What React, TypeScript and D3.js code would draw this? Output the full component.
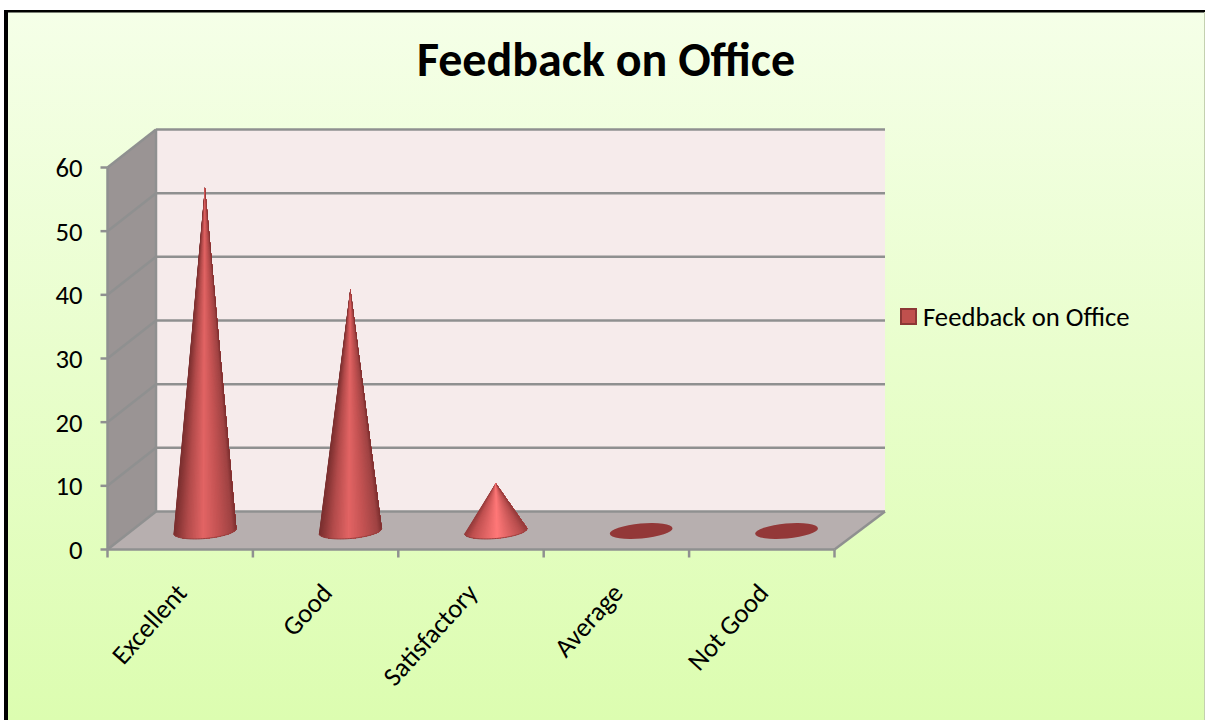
import React from 'react';
import * as d3 from 'd3';

const title = 'Feedback on Office';
const categories = ['Excellent', 'Good', 'Satisfactory', 'Average', 'Not Good'];
const values = [54, 38, 7.5, 0, 0];
const yTicks = [0, 10, 20, 30, 40, 50, 60];

const width = 1205;
const height = 720;
const font = 'Carlito, Calibri, "Open Sans", "Noto Sans", sans-serif';

// front plane of the 3d box, back wall is pushed by this offset
const depth = { x: 48.5, y: -38 };
const xScale = d3.scaleBand<string>().domain(categories).range([107.5, 834.5]);
const yScale = d3.scaleLinear().domain([0, 60]).range([549.5, 167.5]);

const axisColor = '#8f9090';

// shading across the cone, 0 = left edge, 1 = right edge
const coneShade = d3.scaleLinear<string>()
  .domain([0, 0.08, 0.3, 0.55, 0.8, 1])
  .range(['#7d3030', '#a04343', '#c25252', '#e26464', '#b34b4b', '#7a2f2f']);
const brightShade = d3.scaleLinear<string>()
  .domain([0, 0.1, 0.5, 0.9, 1])
  .range(['#963c3c', '#b84e4e', '#ff7878', '#c05050', '#963c3c']);

const SLICES = 60;

const Cone = ({ cx, cy, tipY, shade }: { cx: number; cy: number; tipY: number; shade: (t: number) => string }) => {
  const rx = 31.5;
  const ry = 7.5;
  const t = (-5 * Math.PI) / 180;
  const base = (a: number): [number, number] => [
    cx + rx * Math.cos(a) * Math.cos(t) - ry * Math.sin(a) * Math.sin(t),
    cy + rx * Math.cos(a) * Math.sin(t) + ry * Math.sin(a) * Math.cos(t),
  ];
  // base rim from left to right along the front of the ellipse
  const angles = d3.range(SLICES + 1).map(i => Math.PI - (i / SLICES) * Math.PI);
  const rim = angles.map(base);

  // painted left to right, every piece covers all that lies to its right, so no seams show
  return (
    <g>
      {angles.slice(0, -1).map((a, i) => {
        const piece = [[cx, tipY], ...rim.slice(i)];
        return (
          <polygon
            key={i}
            points={piece.map(p => p.join(',')).join(' ')}
            fill={shade((1 + Math.cos(a + Math.PI)) / 2)}
          />
        );
      })}
      <path d={d3.line()(rim) as string} fill="none" stroke="#96403f" strokeWidth={1} />
    </g>
  );
};

const App = () => {
  const [x0, x1] = xScale.range();
  const y0 = yScale(0);
  const yTop = yScale(60);
  const pts = (p: number[][]) => p.map(d => d.join(',')).join(' ');

  return (
    <svg width={width} height={height} style={{ position: 'fixed', left: 0, top: 0 }}>
      <defs>
        <linearGradient id="bg" x1="0" y1="0" x2="0" y2="1">
          <stop offset="0" stopColor="#f5ffe8" />
          <stop offset="1" stopColor="#dcfdb0" />
        </linearGradient>
      </defs>

      {/* frame: thick black on the left and top only, cut off by the picture edge */}
      <rect x={0} y={0} width={width} height={height} fill="#fff" />
      <rect x={8} y={12} width={width - 8} height={height - 12} fill="url(#bg)" />
      <rect x={4} y={10} width={4} height={height - 10} fill="#000" />
      <rect x={4} y={10} width={width - 4} height={2.5} fill="#000" />
      <rect x={width - 1} y={12} width={1} height={height - 12} fill="#c4d0b0" />

      <text x={606} y={76} textAnchor="middle" fontFamily={font} fontSize={48} fontWeight="bold" fill="#000">
        {title}
      </text>

      {/* side wall, floor, back wall */}
      <polygon points={pts([[x0, y0], [x0, yTop], [x0 + depth.x, yTop + depth.y], [x0 + depth.x, y0 + depth.y]])} fill="#9a9494" />
      <polygon points={pts([[x0, y0], [x1, y0], [x1 + depth.x + 2, y0 + depth.y], [x0 + depth.x, y0 + depth.y]])} fill="#b7afaf" />
      <rect x={x0 + depth.x} y={yTop + depth.y} width={x1 - x0 + 2} height={y0 - yTop} fill="#f6ebeb" />

      {yTicks.map(t => (
        <g key={t} stroke={axisColor} strokeWidth={2.5} fill="none">
          <line x1={x0 + depth.x} x2={x1 + depth.x + 2} y1={yScale(t) + depth.y} y2={yScale(t) + depth.y} />
          <line x1={x0} x2={x0 + depth.x} y1={yScale(t)} y2={yScale(t) + depth.y} />
          <line x1={x0 - 7} x2={x0} y1={yScale(t)} y2={yScale(t)} />
        </g>
      ))}
      <g stroke={axisColor} strokeWidth={2.5} fill="none">
        <line x1={x0} x2={x0} y1={yTop} y2={y0} />
        <line x1={x0 + depth.x} x2={x0 + depth.x} y1={yTop + depth.y} y2={y0 + depth.y} />
        <line x1={x0} x2={x1} y1={y0} y2={y0} />
        <line x1={x1} x2={x1 + depth.x + 2} y1={y0} y2={y0 + depth.y} />
        {categories.map((c, i) => (
          <line key={c} x1={x0 + i * xScale.step()} x2={x0 + i * xScale.step()} y1={y0} y2={y0 + 8} />
        ))}
        <line x1={x1} x2={x1} y1={y0} y2={y0 + 8} />
      </g>

      {yTicks.map(t => (
        <text key={t} x={82.5} y={yScale(t) + 9.5} textAnchor="end" fontFamily={font} fontSize={26.7} fill="#000">
          {t}
        </text>
      ))}

      {categories.map((c, i) => {
        const cx = (xScale(c) as number) + xScale.bandwidth() / 2 + depth.x / 2 + 0.5;
        const cy = y0 + depth.y / 2 + 0.5;
        const tipY = yScale(values[i]) + depth.y / 2 + 0.5;
        return values[i] > 0 ? (
          <Cone key={c} cx={cx} cy={cy} tipY={tipY} shade={values[i] < 10 ? brightShade : coneShade} />
        ) : (
          <ellipse key={c} cx={cx} cy={cy} rx={31.5} ry={7.5} transform={`rotate(-5 ${cx} ${cy})`} fill="#933838" />
        );
      })}

      {categories.map(c => {
        const tx = (xScale(c) as number) + xScale.bandwidth() / 2 + 8;
        const ty = 594;
        return (
          <text key={c} x={tx} y={ty} transform={`rotate(-48 ${tx} ${ty})`} textAnchor="end" fontFamily={font} fontSize={26.7} fill="#000">
            {c}
          </text>
        );
      })}

      <rect x={901} y={309} width={15} height={15} fill="#c0504d" stroke="#8c3836" strokeWidth={2} />
      <text x={923} y={326} fontFamily={font} fontSize={26.7} fill="#000">
        {title}
      </text>
    </svg>
  );
};

export default App;
